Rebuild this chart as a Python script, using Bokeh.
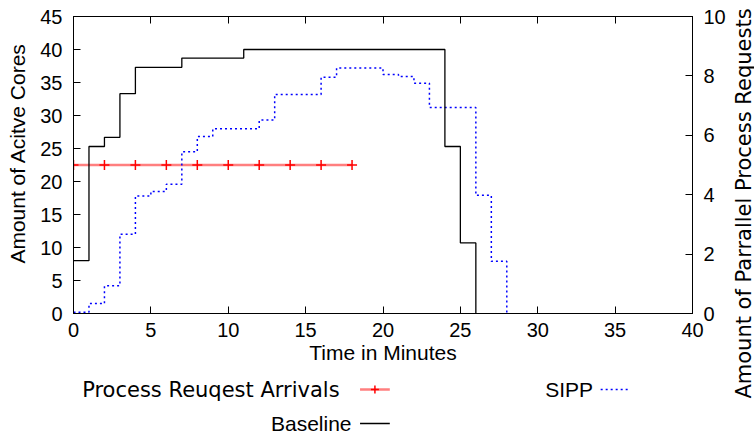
import math
from bokeh.plotting import figure
from bokeh.layouts import row, column
from bokeh.models import Range1d, LinearAxis, FixedTicker
from bokeh.core.properties import value
from bokeh.embed import file_html
from bokeh.resources import INLINE

# ---- data ----
baseline_t = [0, 1, 2, 3, 4, 7, 11, 24, 25, 26]
baseline_cores = [8, 25.3, 26.7, 33.3, 37.3, 38.7, 40, 25.3, 10.7, 0]

sipp_t = [0, 1, 2, 3, 4, 5, 6, 7, 8, 9, 12, 13, 16, 17, 20, 21, 22, 23, 26, 27, 28]
sipp_cores = [0.2, 1.5, 4.2, 12, 17.8, 18.5, 19.6, 24.5, 26.8, 28, 29.3, 33.2,
              35.8, 37.2, 36.2, 35.9, 34.9, 31.2, 17.9, 7.9, 0]

arrival_t = [0, 2, 4, 6, 8, 10, 12, 14, 16, 18]
arrival_requests = [5, 5, 5, 5, 5, 5, 5, 5, 5, 5]

x_ticks = [0, 5, 10, 15, 20, 25, 30, 35, 40]
y_ticks = [0, 5, 10, 15, 20, 25, 30, 35, 40, 45]
y2_ticks = [0, 2, 4, 6, 8, 10]

series_names = ["Process Reuqest Arrivals", "SIPP", "Baseline"]
x_label = "Time in Minutes"
y_label = "Amount of Acitve Cores"
y2_label = "Amount of Parrallel Process Requests"

# ---- layout (pixels) ----
W, H = 754, 434
MAIN_W, MAIN_H = 728, 372          # main chart
LEG_H = H - MAIN_H                 # legend strip under it
LAB_W = W - MAIN_W                 # strip holding the right-axis title
FL, FR, FT, FB = 73, 692, 16, 313  # frame edges

p = figure(width=MAIN_W, height=MAIN_H, x_range=Range1d(0, 40), y_range=Range1d(0, 45),
           output_backend="svg", toolbar_location=None, title=None,
           min_border_left=FL, min_border_right=MAIN_W - FR,
           min_border_top=FT, min_border_bottom=MAIN_H - FB)
p.extra_y_ranges = {"req": Range1d(0, 10)}
p.xgrid.visible = False
p.ygrid.visible = False
p.outline_line_color = "black"
p.outline_line_width = 1
p.outline_line_alpha = 1
p.background_fill_color = "white"
p.border_fill_color = "white"

SANS = "Liberation Sans"
DEJAVU = "DejaVu Sans"


def style_axis(ax):
    ax.major_tick_in = 7
    ax.major_tick_out = 0
    ax.minor_tick_in = 0
    ax.minor_tick_out = 0
    ax.axis_line_color = "black"
    ax.major_tick_line_color = "black"
    ax.major_label_text_font = SANS
    ax.major_label_text_font_size = "20px"
    ax.major_label_text_color = "black"
    ax.axis_label_text_font = SANS
    ax.axis_label_text_font_size = "21px"
    ax.axis_label_text_font_style = "normal"
    ax.axis_label_text_color = "black"


xa = p.xaxis[0]
xa.ticker = FixedTicker(ticks=x_ticks)
style_axis(xa)
xa.major_label_standoff = 9
xa.axis_label = x_label
xa.axis_label_standoff = 1

ya = p.yaxis[0]
ya.ticker = FixedTicker(ticks=y_ticks)
style_axis(ya)
ya.major_label_standoff = 11
ya.axis_label = "\u00a0" * 4 + y_label   # nudges the centred title upward like gnuplot
ya.axis_label_standoff = 8

ax2 = LinearAxis(y_range_name="req", ticker=FixedTicker(ticks=y2_ticks))
style_axis(ax2)
ax2.major_label_standoff = 11
p.add_layout(ax2, "right")

ax_top = LinearAxis(ticker=FixedTicker(ticks=x_ticks))
style_axis(ax_top)
ax_top.major_label_text_font_size = "1px"
ax_top.major_label_text_alpha = 0
ax_top.major_label_standoff = 0
p.add_layout(ax_top, "above")

# ---- series ----
p.line(arrival_t, arrival_requests, y_range_name="req", line_color="red",
       line_alpha=0.5, line_width=2.5)
p.scatter(arrival_t, arrival_requests, y_range_name="req", marker="cross",
          size=10, line_color="red", line_width=1.5)
p.step(sipp_t, sipp_cores, mode="after", line_color="blue",
       line_dash="2 3", line_width=1.5)
p.step(baseline_t, baseline_cores, mode="after", line_color="black",
       line_width=1.3)


def blank(width, height, x0, x1, y0, y1):
    f = figure(width=width, height=height, x_range=Range1d(x0, x1), y_range=Range1d(y0, y1),
               output_backend="svg", toolbar_location=None, title=None,
               x_axis_location=None, y_axis_location=None,
               min_border=0, min_border_left=0, min_border_right=0,
               min_border_top=0, min_border_bottom=0)
    f.grid.visible = False
    f.outline_line_color = None
    f.background_fill_color = "white"
    f.border_fill_color = "white"
    return f


# ---- legend strip (gnuplot style: text, then sample). Coordinates = canvas pixels ----
leg = blank(MAIN_W, LEG_H, 0, MAIN_W, H, MAIN_H)   # y runs downward like the page
row1, row2 = 389, 423
leg.text(x=[313], y=[row1], text=[series_names[0]],
         text_align="right", text_baseline="middle",
         text_font=value(DEJAVU), text_font_size=value("21px"), text_color="black")
leg.text(x=[611, 327], y=[row1, row2], text=[series_names[1], series_names[2]],
         text_align="right", text_baseline="middle",
         text_font=value(SANS), text_font_size=value("21px"), text_color="black")
leg.segment(x0=[337], y0=[row1], x1=[372], y1=[row1], line_color="red",
            line_alpha=0.5, line_width=2.5)
leg.scatter(x=[354.5], y=[row1], marker="cross", size=8, line_color="red", line_width=1.5)
leg.segment(x0=[620], y0=[row1], x1=[654], y1=[row1], line_color="blue",
            line_dash="2 3", line_width=1.5)
leg.segment(x0=[337], y0=[row2], x1=[372], y1=[row2], line_color="black", line_width=1.3)

# ---- right-axis title strip (reads bottom to top) ----
lab = blank(LAB_W, H, MAIN_W, W, 0, H)             # y runs upward
lab.text(x=[743], y=[H - 203], text=[y2_label], angle=math.pi / 2,
         text_align="center", text_baseline="middle",
         text_font=value(DEJAVU), text_font_size=value("21px"), text_color="black")

layout = row(column(p, leg, spacing=0), lab, spacing=0)
open("out.html", "w").write(file_html(layout, INLINE))
